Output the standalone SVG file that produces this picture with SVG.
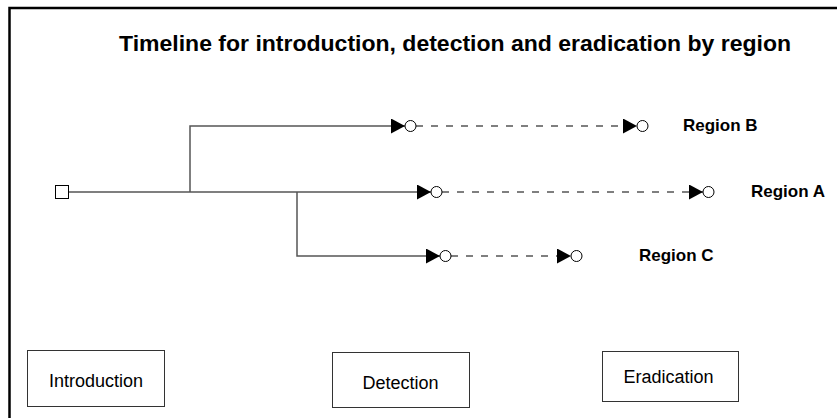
<svg xmlns="http://www.w3.org/2000/svg" width="837" height="418" viewBox="0 0 837 418">
<style>
.frame{stroke:#000;stroke-width:2.5;fill:none}
.ln{stroke:#555;stroke-width:1.5;fill:none}
.dash{stroke:#555;stroke-width:1.5;fill:none;stroke-dasharray:7 8}
.dot{fill:#fff;stroke:#000;stroke-width:1}
.box{fill:#fff;stroke:#333;stroke-width:1}
.title{font-family:"Liberation Sans",Arial,sans-serif;font-weight:bold;font-size:22px;fill:#000}
.reg{font-family:"Liberation Sans",Arial,sans-serif;font-weight:bold;font-size:17px;fill:#000}
.lbl{font-family:"Liberation Sans",Arial,sans-serif;font-size:18px;fill:#000;text-anchor:middle}
</style>
<defs>
<marker id="ah" markerUnits="userSpaceOnUse" markerWidth="14" markerHeight="15" refX="14" refY="7.5" orient="auto" viewBox="0 0 14 15">
<path d="M0,0 L14,7.5 L0,15 Z" fill="#000"/>
</marker>
</defs>
<rect width="837" height="418" fill="#fff"/>
<path class="frame" d="M9.5,418 V8 H837"/>
<text class="title" x="119" y="51" textLength="672" lengthAdjust="spacingAndGlyphs">Timeline for introduction, detection and eradication by region</text>
<g id="connectors">
<path class="ln" d="M69,192 H431" marker-end="url(#ah)"/>
<path class="ln" d="M190,192 V126 H405" marker-end="url(#ah)"/>
<path class="ln" d="M297,192 V256 H440" marker-end="url(#ah)"/>
<path class="dash" d="M416,126 H637" marker-end="url(#ah)"/>
<path class="dash" d="M442,192 H703" marker-end="url(#ah)"/>
<path class="dash" d="M451,256 H571" marker-end="url(#ah)"/>
</g>
<g id="start"><rect x="55.5" y="185.5" width="13" height="13" fill="#fff" stroke="#000" stroke-width="1"/></g>
<g id="regionB">
<circle class="dot" cx="410.5" cy="126" r="5.5"/>
<circle class="dot" cx="642.5" cy="126" r="5.5"/>
<text class="reg" x="683" y="131">Region B</text>
</g>
<g id="regionA">
<circle class="dot" cx="436.5" cy="192" r="5.5"/>
<circle class="dot" cx="708.5" cy="192" r="5.5"/>
<text class="reg" x="751" y="197">Region A</text>
</g>
<g id="regionC">
<circle class="dot" cx="445.5" cy="256" r="5.5"/>
<circle class="dot" cx="576.5" cy="256" r="5.5"/>
<text class="reg" x="639" y="261">Region C</text>
</g>
<g id="introduction">
<rect class="box" x="27.5" y="350.5" width="137" height="56"/>
<text class="lbl" x="96" y="387">Introduction</text>
</g>
<g id="detection">
<rect class="box" x="332.5" y="352.5" width="137" height="55"/>
<text class="lbl" x="400.5" y="389">Detection</text>
</g>
<g id="eradication">
<rect class="box" x="602.5" y="351.5" width="136" height="50"/>
<text class="lbl" x="668.5" y="383">Eradication</text>
</g>
</svg>
